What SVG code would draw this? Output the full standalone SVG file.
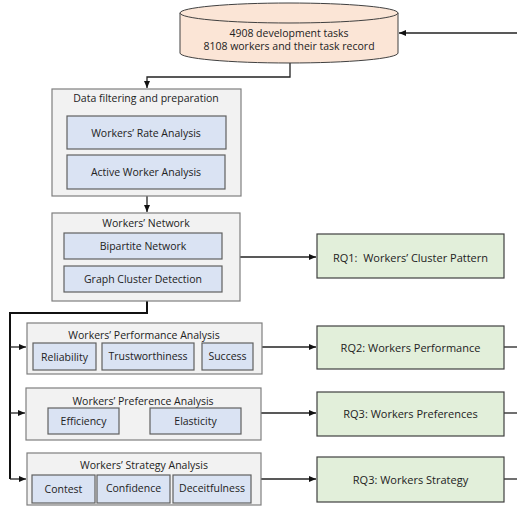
<svg xmlns="http://www.w3.org/2000/svg" width="517" height="508" viewBox="0 0 517 508">
<defs>
<style>
text{font-family:"Open Sans","Liberation Sans",sans-serif;font-size:10.5px;fill:#222;text-anchor:middle;dominant-baseline:central}
text.rqt{font-size:11px;white-space:pre}
.outer{fill:#F2F2F2;stroke:#7F7F7F;stroke-width:1.2}
.inner{fill:#DAE3F3;stroke:#606060;stroke-width:1.2}
.rq{fill:#E2EFDA;stroke:#404040;stroke-width:1.2}
.cyl{fill:#FBE5D6;stroke:#404040;stroke-width:1}
.ln{fill:none;stroke:#222;stroke-width:1.3}
.ln2{fill:none;stroke:#111;stroke-width:2}
</style>
<marker id="ah" markerWidth="8" markerHeight="8" refX="7" refY="4" orient="auto" markerUnits="userSpaceOnUse">
<path d="M0,1 L7,4 L0,7 z" fill="#111"/>
</marker>
</defs>
<rect width="517" height="508" fill="#fff"/>

<g id="connectors">
<path class="ln" d="M517,33 H399" marker-end="url(#ah)"/>
<path class="ln" d="M290,63 V77 H147 V88" marker-end="url(#ah)"/>
<path class="ln" d="M147,196 V212" marker-end="url(#ah)"/>
<path class="ln" d="M240,257 H316" marker-end="url(#ah)"/>
<path class="ln2" d="M147,301 V313 H10 V479"/>
<path class="ln" d="M10,347 H26" marker-end="url(#ah)"/>
<path class="ln" d="M10,413 H25" marker-end="url(#ah)"/>
<path class="ln" d="M10,479 H26" marker-end="url(#ah)"/>
<path class="ln" d="M262,347 H316" marker-end="url(#ah)"/>
<path class="ln" d="M261,413 H316" marker-end="url(#ah)"/>
<path class="ln" d="M261,479 H316" marker-end="url(#ah)"/>
<path class="ln" d="M504,347 H517"/>
<path class="ln" d="M504,413 H517"/>
<path class="ln" d="M504,479 H517"/>
</g>

<g id="dataset">
<path class="cyl" d="M180,13 V53 A109,10 0 0 0 398,53 V13"/>
<ellipse class="cyl" cx="289" cy="13" rx="109" ry="10"/>
<text x="289" y="33">4908 development tasks</text>
<text x="289" y="46">8108 workers and their task record</text>
</g>

<g id="data-filtering">
<rect class="outer" x="52" y="89" width="189" height="107"/>
<text x="146" y="98">Data filtering and preparation</text>
<rect class="inner" x="67" y="116" width="159" height="33"/>
<text x="146" y="133">Workers’ Rate Analysis</text>
<rect class="inner" x="67" y="155" width="158" height="34"/>
<text x="146" y="172">Active Worker Analysis</text>
</g>

<g id="workers-network">
<rect class="outer" x="52" y="213" width="188" height="88"/>
<text x="146" y="223">Workers’ Network</text>
<rect class="inner" x="64" y="233" width="158" height="26"/>
<text x="143" y="246">Bipartite Network</text>
<rect class="inner" x="64" y="266" width="158" height="26"/>
<text x="143" y="279">Graph Cluster Detection</text>
</g>

<g id="performance">
<rect class="outer" x="27" y="323" width="235" height="51"/>
<text x="144" y="335">Workers’ Performance Analysis</text>
<rect class="inner" x="33" y="343" width="63" height="27"/>
<text x="64.5" y="357">Reliability</text>
<rect class="inner" x="102" y="343" width="92" height="27"/>
<text x="148" y="356">Trustworthiness</text>
<rect class="inner" x="202" y="343" width="51" height="27"/>
<text x="227.5" y="356">Success</text>
</g>

<g id="preference">
<rect class="outer" x="26" y="388" width="235" height="52"/>
<text x="143" y="401">Workers’ Preference Analysis</text>
<rect class="inner" x="48" y="408" width="71" height="26"/>
<text x="83.5" y="421">Efficiency</text>
<rect class="inner" x="150" y="408" width="91" height="26"/>
<text x="195.5" y="421">Elasticity</text>
</g>

<g id="strategy">
<rect class="outer" x="27" y="453" width="234" height="52"/>
<text x="144" y="465">Workers’ Strategy Analysis</text>
<rect class="inner" x="32" y="475" width="63" height="28"/>
<text x="63.5" y="489">Contest</text>
<rect class="inner" x="97" y="475" width="73" height="28"/>
<text x="133.5" y="488">Confidence</text>
<rect class="inner" x="173" y="475" width="78" height="28"/>
<text x="212" y="488">Deceitfulness</text>
</g>

<g id="rq1">
<rect class="rq" x="317" y="234" width="187" height="44"/>
<text class="rqt" x="410.5" y="257">RQ1:  Workers’ Cluster Pattern</text>
</g>
<g id="rq2">
<rect class="rq" x="317" y="326" width="187" height="43"/>
<text class="rqt" x="410.5" y="347">RQ2: Workers Performance</text>
</g>
<g id="rq3-pref">
<rect class="rq" x="317" y="392" width="187" height="44"/>
<text class="rqt" x="410.5" y="413">RQ3: Workers Preferences</text>
</g>
<g id="rq3-strat">
<rect class="rq" x="317" y="457" width="187" height="45"/>
<text class="rqt" x="410.5" y="479">RQ3: Workers Strategy</text>
</g>
</svg>
